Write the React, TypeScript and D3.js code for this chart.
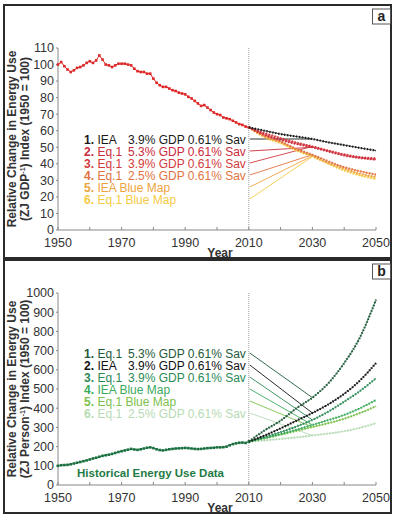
import React from 'react'
import * as d3 from 'd3'

// historical years 1950..2010, one value per year
const histYears = d3.range(1950, 2011)

const histA = [
  100, 101.5, 99, 97, 95.5, 96.5, 98, 98.5, 99.5, 101, 102, 101, 102.5, 105.5, 103, 100,
  99.5, 98.5, 99.5, 100.5, 100.5, 100.5, 100, 99.5, 97.5, 96, 95.5, 95.5, 94.5, 94.5, 91.5,
  89, 87.5, 86.5, 86.5, 85.5, 84.5, 84, 83, 82.5, 82, 80.5, 79.5, 78, 76.5, 75, 75.5, 74,
  72.5, 71, 70, 69.5, 68, 67.5, 67, 66, 65, 64, 63.5, 62.5, 62
]

const histB = [
  100, 103, 104, 105, 108, 112, 116, 120, 124, 128, 133, 138, 142, 147, 152, 155, 158, 162,
  167, 172, 176, 180, 184, 188, 185, 183, 186, 190, 194, 196, 192, 186, 182, 180, 183, 186,
  188, 190, 191, 192, 193, 192, 190, 188, 187, 188, 190, 192, 193, 194, 196, 196, 197, 200,
  207, 213, 217, 220, 221, 219, 226
]

// projections, every 5 years
const projYears = [2010, 2015, 2020, 2025, 2030, 2035, 2040, 2045, 2050]

const projA = [
  [62, 60, 58, 56.5, 55, 53, 51.3, 49.6, 48],
  [62, 57.5, 54.5, 52, 50, 47.5, 45, 43.5, 42.5],
  [62, 58.5, 55.5, 52.8, 50.5, 48, 45.7, 44, 43.3],
  [62, 57, 53.5, 49, 45.5, 41.5, 38, 35.5, 33.5],
  [62, 56.5, 53, 48.5, 44.8, 40.5, 37, 34, 32],
  [62, 56, 52.5, 48, 44.4, 40, 36, 33, 30.8]
]

const projB = [
  [226, 285, 335, 400, 455, 530, 635, 770, 965],
  [226, 258, 295, 335, 375, 420, 475, 545, 635],
  [226, 250, 275, 305, 339, 382, 434, 490, 556],
  [226, 245, 265, 288, 313, 338, 365, 400, 443],
  [226, 243, 262, 282, 302, 322, 345, 375, 410],
  [226, 232, 240, 248, 258, 268, 280, 298, 322]
]

const namesA = ['IEA', 'Eq.1', 'Eq.1', 'Eq.1', 'IEA Blue Map', 'Eq.1 Blue Map']
const ratesA = ['3.9% GDP 0.61% Sav', '5.3% GDP 0.61% Sav', '3.9% GDP 0.61% Sav', '2.5% GDP 0.61% Sav', '', '']
const colorsA = ['#1a1a1a', '#cc2b3b', '#d33a3c', '#e2733f', '#eea43e', '#f5ca45']

const namesB = ['Eq.1', 'IEA', 'Eq.1', 'IEA Blue Map', 'Eq.1 Blue Map', 'Eq.1']
const ratesB = ['5.3% GDP 0.61% Sav', '3.9% GDP 0.61% Sav', '3.9% GDP 0.61% Sav', '', '', '2.5% GDP 0.61% Sav']
const colorsB = ['#1d5a38', '#111111', '#2c8a56', '#3aaa5c', '#7cc14b', '#b7dbb5']

const xTicks = [1950, 1970, 1990, 2010, 2030, 2050]
const leaderYear = 2030
const splitYear = 2010

const font = 'Liberation Sans, Arial, sans-serif'
const x = d3.scaleLinear().domain([1950, 2050]).range([58, 376])

const Panel = ({ top, bottom, plotTop, plotBottom, yMax, yStep, hist, histColor, proj, names, rates, colors, rowTop, letter, unit, histLabel }) => {
  const y = d3.scaleLinear().domain([0, yMax]).range([plotBottom, plotTop])
  const histLine = d3.line<number>().x((_, i) => x(histYears[i])).y((d) => y(d))
  const projLine = d3
    .line<number>()
    .x((_, i) => x(projYears[i]))
    .y((d) => y(d))
    .curve(d3.curveMonotoneX)
  const yTicks = d3.range(0, yMax + 1, yStep)
  const minor = d3.range(1950, 2051, 10)
  const li = projYears.indexOf(leaderYear)
  const midY = (plotTop + plotBottom) / 2

  return (
    <g>
      <rect x={4} y={top} width={387} height={bottom - top} fill='#fff' stroke='#2a2a2a' strokeWidth={2} />
      <rect x={372.5} y={top + 4} width={18} height={15} fill='#fff' stroke='#555' strokeWidth={1} />
      <text x={381.5} y={top + 16} textAnchor='middle' fontSize={14} fontWeight='bold' fill='#222'>{letter}</text>

      {/* axes */}
      <line x1={x(1950)} x2={x(2050)} y1={plotBottom} y2={plotBottom} stroke='#888' />
      <line x1={x(1950)} x2={x(1950)} y1={plotTop} y2={plotBottom} stroke='#888' />
      {minor.map((t) => (
        <line key={t} x1={x(t)} x2={x(t)} y1={plotBottom} y2={plotBottom - 3} stroke='#888' />
      ))}
      {yTicks.map((t) => (
        <g key={t}>
          <line x1={x(1950) - 2} x2={x(1950)} y1={y(t)} y2={y(t)} stroke='#888' />
          <text x={54} y={y(t)} dy='0.35em' textAnchor='end' fontSize={12.5} fill='#333'>{t}</text>
        </g>
      ))}
      {xTicks.map((t) => (
        <text key={t} x={x(t)} y={plotBottom + 17} textAnchor='middle' fontSize={12.5} fill='#333'>{t}</text>
      ))}
      <text x={220} y={plotBottom + 27} textAnchor='middle' fontSize={12} fontWeight='bold' fill='#333'>Year</text>

      <g fontSize={12} fontWeight='bold' fill='#333' textAnchor='middle'>
        <text transform={`translate(15.5, ${midY}) rotate(-90)`}>Relative Change in Energy Use</text>
        <text transform={`translate(29, ${midY}) rotate(-90)`}>
          (ZJ {unit}
          <tspan dy={-4} fontSize={7}>-1</tspan>
          <tspan dy={4}>) Index (1950 = 100)</tspan>
        </text>
      </g>

      <line x1={x(splitYear)} x2={x(splitYear)} y1={plotTop} y2={plotBottom} stroke='#999' strokeDasharray='1 1' />

      {/* leader lines */}
      {proj.map((s, i) => (
        <line key={i} x1={x(splitYear) + 1} y1={rowTop + i * 12} x2={x(leaderYear)} y2={y(s[li])} stroke={colors[i]} strokeWidth={0.9} />
      ))}

      {/* historical */}
      <path d={histLine(hist)} fill='none' stroke={histColor} strokeWidth={1} />
      {hist.map((d, i) => (
        <rect key={i} x={x(histYears[i]) - 1.3} y={y(d) - 1.3} width={2.6} height={2.6} fill={histColor} />
      ))}

      {/* projections, first series on top */}
      {proj.slice().reverse().map((s, k) => {
        const i = proj.length - 1 - k
        return (
          <g key={i}>
            <path d={projLine(s)} fill='none' stroke={colors[i]} strokeWidth={0.8} />
            <path d={projLine(s)} fill='none' stroke={colors[i]} strokeWidth={2.2} strokeDasharray='1.3 1.7' />
          </g>
        )
      })}

      {/* legend */}
      <g fontSize={12}>
        {names.map((n, i) => (
          <text key={i} x={84} y={rowTop + i * 12 + 4.5} fill={colors[i]}>
            <tspan fontWeight='bold'>{i + 1}.</tspan> {n}
            {rates[i] && <tspan x={128}>{rates[i]}</tspan>}
          </text>
        ))}
      </g>
      {histLabel && (
        <text x={77} y={plotBottom - 8} fontSize={11.5} fontWeight='bold' fill='#1e7b45'>{histLabel}</text>
      )}
    </g>
  )
}

const App = () => {
  return (
    <svg width={396} height={522} fontFamily={font} style={{ position: 'absolute', left: 0, top: 0, background: '#fff' }}>
      <Panel
        top={5} bottom={258} plotTop={48} plotBottom={230} yMax={110} yStep={10}
        hist={histA} histColor='#dd2626' proj={projA}
        names={namesA} rates={ratesA} colors={colorsA} rowTop={139}
        letter='a' unit='GDP' histLabel={null}
      />
      <Panel
        top={260} bottom={513} plotTop={293} plotBottom={485} yMax={1000} yStep={100}
        hist={histB} histColor='#1b7040' proj={projB}
        names={namesB} rates={ratesB} colors={colorsB} rowTop={353}
        letter='b' unit='Person' histLabel='Historical Energy Use Data'
      />
    </svg>
  )
}

export default App
